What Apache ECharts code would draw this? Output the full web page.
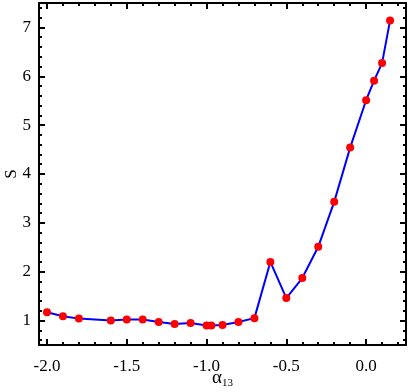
<!DOCTYPE html>
<html>
<head>
<meta charset="utf-8">
<script src="https://cdn.jsdelivr.net/npm/echarts@6/dist/echarts.min.js"></script>
<style>html,body{margin:0;padding:0;background:#fff}#c{width:409px;height:392px}</style>
</head>
<body>
<div id="c"></div>
<script>
var alphaValues = [-2.0, -1.9, -1.8, -1.6, -1.5, -1.4, -1.3, -1.2, -1.1, -1.0, -0.97, -0.9, -0.8, -0.7, -0.6, -0.5, -0.4, -0.3, -0.2, -0.1, 0.0, 0.05, 0.1, 0.15];
var sValues = [1.17, 1.09, 1.04, 1.0, 1.02, 1.02, 0.97, 0.93, 0.95, 0.9, 0.9, 0.91, 0.97, 1.05, 2.2, 1.46, 1.87, 2.51, 3.43, 4.54, 5.51, 5.91, 6.27, 7.14];
var xMajorTicks = [-2.0, -1.5, -1.0, -0.5, 0.0];
var yMajorTicks = [1, 2, 3, 4, 5, 6, 7];
var xMinorTicks = [-2.0,-1.9,-1.8,-1.7,-1.6,-1.5,-1.4,-1.3,-1.2,-1.1,-1.0,-0.9,-0.8,-0.7,-0.6,-0.5,-0.4,-0.3,-0.2,-0.1,0.0,0.1,0.2];
var yMinorTicks = [0.6,0.8,1.0,1.2,1.4,1.6,1.8,2.0,2.2,2.4,2.6,2.8,3.0,3.2,3.4,3.6,3.8,4.0,4.2,4.4,4.6,4.8,5.0,5.2,5.4,5.6,5.8,6.0,6.2,6.4,6.6,6.8,7.0,7.2,7.4];
var xRange = [-2.05, 0.25];
var yRange = [0.5, 7.5];

var FONT = '"Liberation Serif", "Times New Roman", Times, serif';
var lineStyle = {color: '#000', width: 2};

function xAx(pos, showLine, ticks, len, labels) {
  return {
    type: 'value', position: pos, min: xRange[0], max: xRange[1],
    axisLine: {show: showLine, onZero: false, lineStyle: lineStyle},
    axisTick: {show: true, inside: true, length: len, customValues: ticks, lineStyle: {color: '#000', width: 2}},
    axisLabel: labels ? {show: true, customValues: xMajorTicks, formatter: function (v) { return v.toFixed(1); }, fontFamily: FONT, fontSize: 17, color: '#000', margin: 13} : {show: false},
    splitLine: {show: false}
  };
}
function yAx(pos, showLine, ticks, len, labels) {
  return {
    type: 'value', position: pos, min: yRange[0], max: yRange[1],
    axisLine: {show: showLine, onZero: false, lineStyle: lineStyle},
    axisTick: {show: true, inside: true, length: len, customValues: ticks, lineStyle: {color: '#000', width: 2}},
    axisLabel: labels ? {show: true, customValues: yMajorTicks, formatter: function (v) { return String(v); }, fontFamily: FONT, fontSize: 17, color: '#000', margin: 8} : {show: false},
    splitLine: {show: false}
  };
}

var xb = xAx('bottom', true, xMajorTicks, 6, true);
xb.name = '{a|α}{s|13}';
xb.nameLocation = 'middle';
xb.nameGap = 22;
xb.nameMoveOverlap = false;
xb.nameTextStyle = {fontFamily: FONT, color: '#000', rich: {a: {fontSize: 19, fontFamily: FONT, color: '#000'}, s: {fontSize: 11, fontFamily: FONT, color: '#000', padding: [11, 0, 0, 0]}}};
var yl = yAx('left', true, yMajorTicks, 6, true);
yl.name = 'S';
yl.nameLocation = 'middle';
yl.nameGap = 19;
yl.nameMoveOverlap = false;
yl.nameTextStyle = {fontFamily: FONT, fontSize: 17, color: '#000'};

var chart = echarts.init(document.getElementById('c'), null, {renderer: 'canvas'});
chart.setOption({
  animation: false,
  backgroundColor: '#fff',
  grid: {left: 39, right: 3, top: 3, bottom: 47, containLabel: false, outerBoundsMode: 'none'},
  xAxis: [xb, xAx('top', true, xMajorTicks, 6, false), xAx('bottom', false, xMinorTicks, 3, false), xAx('top', false, xMinorTicks, 3, false)],
  yAxis: [yl, yAx('right', true, yMajorTicks, 6, false), yAx('left', false, yMinorTicks, 3, false), yAx('right', false, yMinorTicks, 3, false)],
  series: [{
    type: 'line', xAxisIndex: 0, yAxisIndex: 0,
    data: alphaValues.map(function (a, i) { return [a, sValues[i]]; }),
    symbol: 'circle', symbolSize: 8,
    lineStyle: {color: '#0000ff', width: 2},
    itemStyle: {color: '#ff0000'}
  }]
});
</script>
</body>
</html>
